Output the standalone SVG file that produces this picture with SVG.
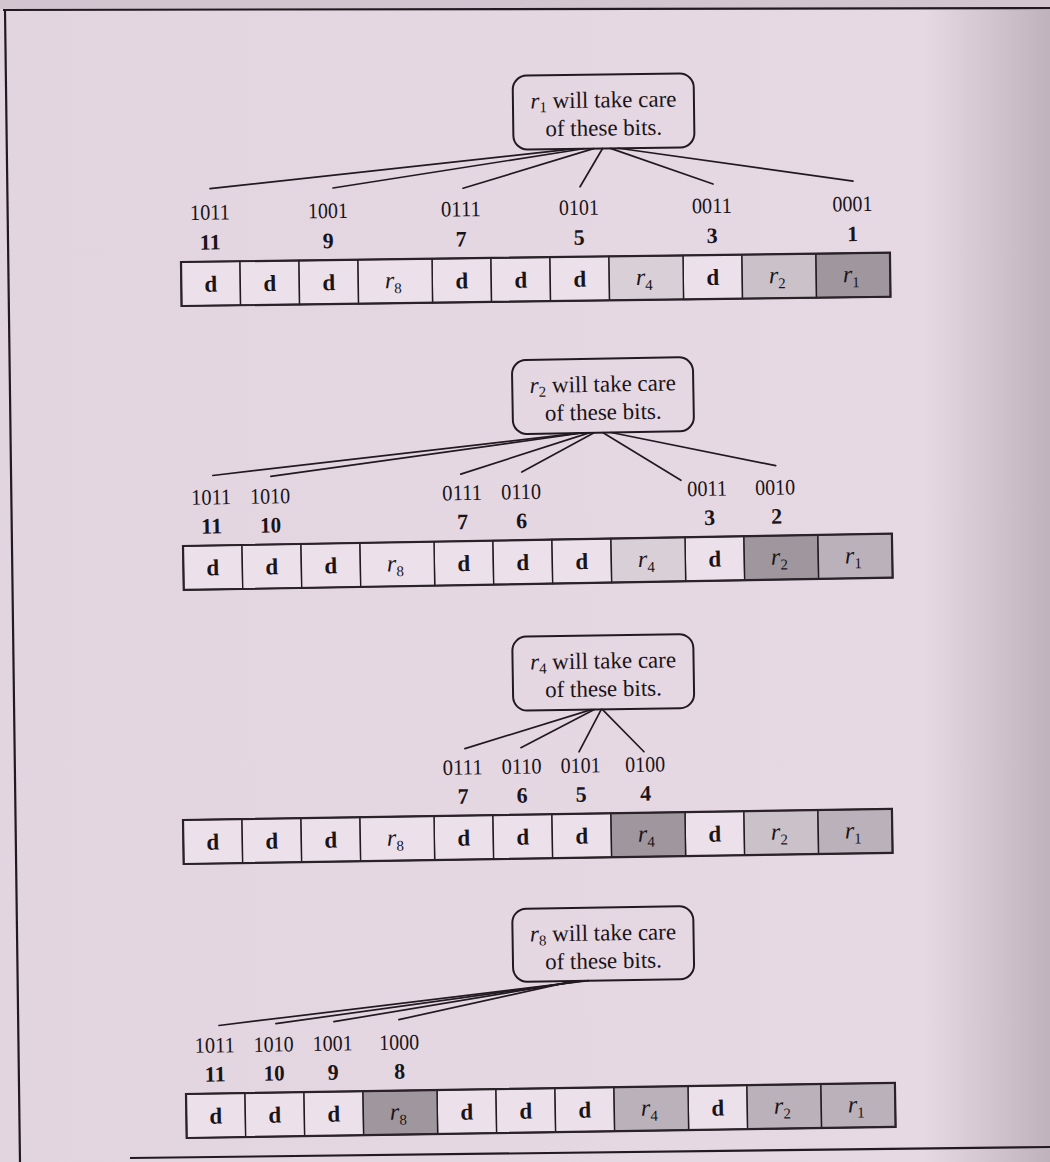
<svg xmlns="http://www.w3.org/2000/svg" width="1050" height="1162" viewBox="0 0 1050 1162">
  <style>
    .cell { fill: #ece1ea; stroke: #221a21; stroke-width: 1.4; }
    .s0 { fill: #d9cfd7; }
    .s1 { fill: #cbc1c9; }
    .s2 { fill: #bbb1ba; }
    .s3 { fill: #9f969e; }
    .frame { fill: none; stroke: #221a21; stroke-width: 2.2; }
    .box { fill: none; stroke: #221a21; stroke-width: 2; }
    .wire { fill: none; stroke: #221a21; stroke-width: 1.7; stroke-linecap: round; }
    .edge { fill: none; stroke: #2a2229; stroke-width: 2.2; }
    text { font-family: "Liberation Serif", "Times New Roman", serif; fill: #1a1419; }
    .lbl { font-size: 22px; text-anchor: middle; }
    .num { font-size: 22px; font-weight: bold; text-anchor: middle; }
    .cap { font-size: 23px; text-anchor: middle; }
    .d { font-size: 23px; font-weight: bold; text-anchor: middle; }
    .r { font-size: 24px; font-style: italic; text-anchor: middle; }
    .sub { font-size: 15px; font-style: normal; }
  </style>
  <defs>
    <linearGradient id="paper" x1="0" y1="0" x2="1" y2="0">
      <stop offset="0" stop-color="#e3d5e0"/>
      <stop offset="0.88" stop-color="#e6d9e4"/>
      <stop offset="0.94" stop-color="#d3c6d0"/>
      <stop offset="1" stop-color="#bfb2bc"/>
    </linearGradient>
    <!-- data cells shared by every row (positions 11..9, 7..5, 3) -->
    <g id="cells">
      <rect class="cell" x="0" y="0" width="59" height="44"/>
      <rect class="cell" x="59" y="0" width="59" height="44"/>
      <rect class="cell" x="118" y="0" width="59" height="44"/>
      <rect class="cell" x="251" y="0" width="59" height="44"/>
      <rect class="cell" x="310" y="0" width="59" height="44"/>
      <rect class="cell" x="369" y="0" width="59" height="44"/>
      <rect class="cell" x="502" y="0" width="59" height="44"/>
    </g>
    <g id="cellText">
      <text class="d" x="29.5" y="30">d</text>
      <text class="d" x="88.5" y="30">d</text>
      <text class="d" x="147.5" y="30">d</text>
      <text class="r" x="212" y="29">r<tspan class="sub" dy="5">8</tspan></text>
      <text class="d" x="280.5" y="30">d</text>
      <text class="d" x="339.5" y="30">d</text>
      <text class="d" x="398.5" y="30">d</text>
      <text class="r" x="463" y="29">r<tspan class="sub" dy="5">4</tspan></text>
      <text class="d" x="531.5" y="30">d</text>
      <text class="r" x="596" y="29">r<tspan class="sub" dy="5">2</tspan></text>
      <text class="r" x="670" y="29">r<tspan class="sub" dy="5">1</tspan></text>
    </g>
  </defs>

  <!-- paper -->
  <rect x="0" y="0" width="1050" height="1162" fill="url(#paper)"/>
  <rect x="0" y="0" width="1050" height="9" fill="#d2c5cf"/>
  <g id="page-frame">
    <path class="frame" d="M3 10 L1050 8"/>
    <path class="frame" d="M5 10 L20 1162"/>
    <path class="frame" d="M130 1158 L1050 1147"/>
  </g>

  <!-- r1 -->
  <g id="section-r1" transform="rotate(-0.75 181 262)">
    <g id="note-r1">
      <rect class="box" x="515" y="80" width="181" height="74" rx="14"/>
      <text class="cap" x="605.5" y="113"><tspan font-style="italic">r</tspan><tspan class="sub" dy="4">1</tspan><tspan dy="-4"> will take care</tspan></text>
      <text class="cap" x="605.5" y="141">of these bits.</text>
    </g>
    <g id="connectors-r1">
      <path class="wire" d="M575 154 L211 189"/>
      <path class="wire" d="M585 154 L334 190"/>
      <path class="wire" d="M595 154 L464 192"/>
      <path class="wire" d="M604 154 L581 192"/>
      <path class="wire" d="M612 154 L714 191"/>
      <path class="wire" d="M620 154 L854 190"/>
    </g>
    <g id="labels-r1">
      <text class="lbl" x="210.5" y="220" textLength="40" lengthAdjust="spacingAndGlyphs">1011</text>
      <text class="lbl" x="328.5" y="220" textLength="40" lengthAdjust="spacingAndGlyphs">1001</text>
      <text class="lbl" x="461.5" y="220" textLength="40" lengthAdjust="spacingAndGlyphs">0111</text>
      <text class="lbl" x="579.5" y="220" textLength="40" lengthAdjust="spacingAndGlyphs">0101</text>
      <text class="lbl" x="712.5" y="220" textLength="40" lengthAdjust="spacingAndGlyphs">0011</text>
      <text class="lbl" x="853" y="220" textLength="40" lengthAdjust="spacingAndGlyphs">0001</text>
      <text class="num" x="210.5" y="250" textLength="21" lengthAdjust="spacingAndGlyphs">11</text>
      <text class="num" x="328.5" y="250">9</text>
      <text class="num" x="461.5" y="250">7</text>
      <text class="num" x="579.5" y="250">5</text>
      <text class="num" x="712.5" y="250">3</text>
      <text class="num" x="853" y="250">1</text>
    </g>
    <g id="row-r1" transform="translate(181 262)">
      <use href="#cells"/>
      <rect class="cell" x="177" y="0" width="74" height="44"/>
      <rect class="cell s0" x="428" y="0" width="74" height="44"/>
      <rect class="cell s1" x="561" y="0" width="74" height="44"/>
      <rect class="cell s3" x="635" y="0" width="74" height="44"/>
      <rect class="edge" x="0" y="0" width="709" height="44"/>
      <use href="#cellText"/>
    </g>
  </g>

  <!-- r2 -->
  <g id="section-r2" transform="rotate(-1 183 546)">
    <g id="note-r2">
      <rect class="box" x="515" y="366" width="181" height="74" rx="14"/>
      <text class="cap" x="605.5" y="399"><tspan font-style="italic">r</tspan><tspan class="sub" dy="4">2</tspan><tspan dy="-4"> will take care</tspan></text>
      <text class="cap" x="605.5" y="427">of these bits.</text>
    </g>
    <g id="connectors-r2">
      <path class="wire" d="M581 440 L214 476"/>
      <path class="wire" d="M584 440 L272 478"/>
      <path class="wire" d="M591 440 L462 479"/>
      <path class="wire" d="M596 440 L523 478"/>
      <path class="wire" d="M605 440 L682 489"/>
      <path class="wire" d="M613 440 L777 476"/>
    </g>
    <g id="labels-r2">
      <text class="lbl" x="212" y="505" textLength="40" lengthAdjust="spacingAndGlyphs">1011</text>
      <text class="lbl" x="271" y="505" textLength="40" lengthAdjust="spacingAndGlyphs">1010</text>
      <text class="lbl" x="463" y="505" textLength="40" lengthAdjust="spacingAndGlyphs">0111</text>
      <text class="lbl" x="522" y="505" textLength="40" lengthAdjust="spacingAndGlyphs">0110</text>
      <text class="lbl" x="708" y="505" textLength="40" lengthAdjust="spacingAndGlyphs">0011</text>
      <text class="lbl" x="776" y="505" textLength="40" lengthAdjust="spacingAndGlyphs">0010</text>
      <text class="num" x="212" y="534" textLength="21" lengthAdjust="spacingAndGlyphs">11</text>
      <text class="num" x="271" y="534" textLength="21" lengthAdjust="spacingAndGlyphs">10</text>
      <text class="num" x="463" y="534">7</text>
      <text class="num" x="522" y="534">6</text>
      <text class="num" x="710" y="534">3</text>
      <text class="num" x="777" y="534">2</text>
    </g>
    <g id="row-r2" transform="translate(183 546)">
      <use href="#cells"/>
      <rect class="cell" x="177" y="0" width="74" height="44"/>
      <rect class="cell s0" x="428" y="0" width="74" height="44"/>
      <rect class="cell s3" x="561" y="0" width="74" height="44"/>
      <rect class="cell s2" x="635" y="0" width="74" height="44"/>
      <rect class="edge" x="0" y="0" width="709" height="44"/>
      <use href="#cellText"/>
    </g>
  </g>

  <!-- r4 -->
  <g id="section-r4" transform="rotate(-0.9 183 820)">
    <g id="note-r4">
      <rect class="box" x="515" y="642" width="181" height="74" rx="14"/>
      <text class="cap" x="605.5" y="675"><tspan font-style="italic">r</tspan><tspan class="sub" dy="4">4</tspan><tspan dy="-4"> will take care</tspan></text>
      <text class="cap" x="605.5" y="703">of these bits.</text>
    </g>
    <g id="connectors-r4">
      <path class="wire" d="M593 716 L466 753"/>
      <path class="wire" d="M596 716 L522 753"/>
      <path class="wire" d="M603 716 L580 758"/>
      <path class="wire" d="M604 716 L645 759"/>
    </g>
    <g id="labels-r4">
      <text class="lbl" x="463.5" y="779" textLength="40" lengthAdjust="spacingAndGlyphs">0111</text>
      <text class="lbl" x="522.5" y="779" textLength="40" lengthAdjust="spacingAndGlyphs">0110</text>
      <text class="lbl" x="581.5" y="779" textLength="40" lengthAdjust="spacingAndGlyphs">0101</text>
      <text class="lbl" x="646" y="779" textLength="40" lengthAdjust="spacingAndGlyphs">0100</text>
      <text class="num" x="463.5" y="808">7</text>
      <text class="num" x="522.5" y="808">6</text>
      <text class="num" x="581.5" y="808">5</text>
      <text class="num" x="646" y="808">4</text>
    </g>
    <g id="row-r4" transform="translate(183 820)">
      <use href="#cells"/>
      <rect class="cell" x="177" y="0" width="74" height="44"/>
      <rect class="cell s3" x="428" y="0" width="74" height="44"/>
      <rect class="cell s1" x="561" y="0" width="74" height="44"/>
      <rect class="cell s2" x="635" y="0" width="74" height="44"/>
      <rect class="edge" x="0" y="0" width="709" height="44"/>
      <use href="#cellText"/>
    </g>
  </g>

  <!-- r8 -->
  <g id="section-r8" transform="rotate(-0.9 186 1094)">
    <g id="note-r8">
      <rect class="box" x="515" y="914" width="181" height="73" rx="14"/>
      <text class="cap" x="605.5" y="947"><tspan font-style="italic">r</tspan><tspan class="sub" dy="4">8</tspan><tspan dy="-4"> will take care</tspan></text>
      <text class="cap" x="605.5" y="975">of these bits.</text>
    </g>
    <g id="connectors-r8">
      <path class="wire" d="M590 987 L220 1026"/>
      <path class="wire" d="M586 987 L277 1025"/>
      <path class="wire" d="M581 987 L335 1024"/>
      <path class="wire" d="M576 987 L400 1023"/>
    </g>
    <g id="labels-r8">
      <text class="lbl" x="215.5" y="1053" textLength="40" lengthAdjust="spacingAndGlyphs">1011</text>
      <text class="lbl" x="274.5" y="1053" textLength="40" lengthAdjust="spacingAndGlyphs">1010</text>
      <text class="lbl" x="333.5" y="1053" textLength="40" lengthAdjust="spacingAndGlyphs">1001</text>
      <text class="lbl" x="400" y="1053" textLength="40" lengthAdjust="spacingAndGlyphs">1000</text>
      <text class="num" x="215.5" y="1082" textLength="21" lengthAdjust="spacingAndGlyphs">11</text>
      <text class="num" x="274.5" y="1082" textLength="21" lengthAdjust="spacingAndGlyphs">10</text>
      <text class="num" x="333.5" y="1082">9</text>
      <text class="num" x="400" y="1082">8</text>
    </g>
    <g id="row-r8" transform="translate(186 1094)">
      <use href="#cells"/>
      <rect class="cell s3" x="177" y="0" width="74" height="44"/>
      <rect class="cell s2" x="428" y="0" width="74" height="44"/>
      <rect class="cell s2" x="561" y="0" width="74" height="44"/>
      <rect class="cell s2" x="635" y="0" width="74" height="44"/>
      <rect class="edge" x="0" y="0" width="709" height="44"/>
      <use href="#cellText"/>
    </g>
  </g>
</svg>
